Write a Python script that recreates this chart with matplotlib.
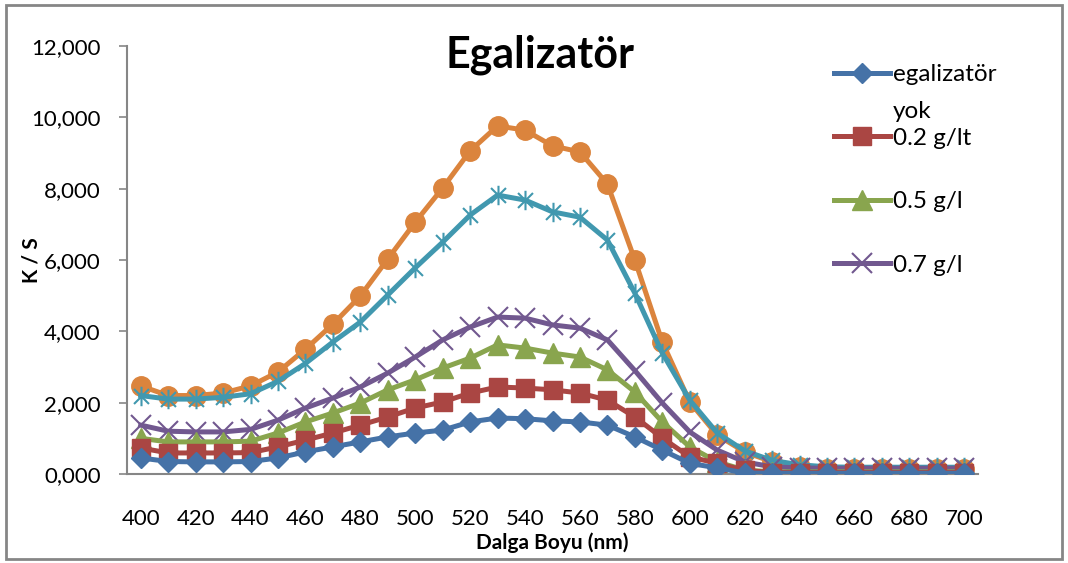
import matplotlib
matplotlib.use("Agg")
import matplotlib.pyplot as plt
from matplotlib.path import Path
from matplotlib.patches import Rectangle
import matplotlib.ticker as mticker
import numpy as np

wavelength = list(range(400, 701, 10))

yok = [450, 350, 340, 340, 350, 450, 620, 760, 900, 1040, 1150, 1230, 1460, 1570, 1550, 1490, 1460, 1370, 1040, 670,
       300, 170, 30, 20, 20, 20, 20, 20, 20, 20, 20]
g02 = [730, 590, 590, 590, 600, 760, 950, 1150, 1370, 1600, 1850, 2020, 2270, 2440, 2410, 2360, 2270, 2070, 1600, 1010,
       480, 300, 100, 40, 40, 40, 40, 40, 40, 40, 40]
g05 = [1000, 900, 900, 900, 920, 1150, 1460, 1710, 1990, 2360, 2640, 2970, 3250, 3620, 3530, 3390, 3280, 2920, 2300, 1460,
       760, 340, 110, 60, 60, 60, 60, 60, 60, 60, 60]
g07 = [1370, 1200, 1180, 1180, 1250, 1510, 1850, 2130, 2440, 2830, 3280, 3760, 4120, 4400, 4370, 4180, 4090, 3760, 2900, 1990,
       1180, 670, 340, 200, 170, 160, 160, 160, 160, 160, 160]
series5 = [2200, 2100, 2100, 2150, 2250, 2600, 3100, 3700, 4260, 5020, 5780, 6500, 7260, 7820, 7680, 7350, 7200, 6560, 5070, 3390,
           2070, 1150, 650, 380, 260, 200, 190, 190, 190, 190, 190]
series6 = [2470, 2200, 2200, 2270, 2470, 2860, 3500, 4200, 4990, 6030, 7060, 8020, 9060, 9760, 9640, 9200, 9030, 8130, 6000, 3700,
           2020, 1090, 620, 340, 200, 140, 140, 140, 140, 140, 140]

labels = ["egalizatör", "0.2 g/lt", "0.5 g/l", "0.7 g/l"]
xtick_labels = list(range(400, 701, 20))
ytick_values = list(range(0, 12001, 2000))

colors = ["#4572A7", "#AA4643", "#89A54E", "#71588F", "#4198AF", "#DB843D"]

star = Path([(-1, -1), (1, 1), (-1, 1), (1, -1), (0, -1.3), (0, 1.3)],
            [Path.MOVETO, Path.LINETO, Path.MOVETO, Path.LINETO, Path.MOVETO, Path.LINETO])

plt.rcParams['font.family'] = ['Lato', 'DejaVu Sans']

fig = plt.figure(figsize=(10.68, 5.63), dpi=100)
ax = fig.add_axes([127 / 1068, 1 - 474 / 563, (978 - 127) / 1068, (474 - 46) / 563])

lw = 3.6
ax.plot(wavelength, series6, color=colors[5], lw=lw, marker='o', ms=14, mec=colors[5], zorder=2)
ax.plot(wavelength, series5, color=colors[4], lw=lw, marker=star, ms=14, mew=1.5, mfc='none', mec=colors[4], zorder=3)
ax.plot(wavelength, g07, color=colors[3], lw=lw, marker='x', ms=14, mew=1.5, mec=colors[3], zorder=4, label=labels[3])
ax.plot(wavelength, g05, color=colors[2], lw=lw, marker='^', ms=14, mec=colors[2], zorder=5, label=labels[2])
ax.plot(wavelength, g02, color=colors[1], lw=lw, marker='s', ms=12.5, mec=colors[1], zorder=6, label=labels[1])
ax.plot(wavelength, yok, color=colors[0], lw=lw, marker='D', ms=10.5, mec=colors[0], zorder=7, label=labels[0])

ax.set_xlim(395, 705)
ax.set_ylim(0, 12000)
ax.set_xticks(xtick_labels)
ax.set_yticks(ytick_values)
ax.yaxis.set_major_formatter(mticker.FuncFormatter(lambda v, p: f"{v/1000:,.3f}".replace('.', ',')))

for s in ['top', 'right']:
    ax.spines[s].set_visible(False)
for s in ['left', 'bottom']:
    ax.spines[s].set_color('#868686')
    ax.spines[s].set_linewidth(1.5)
ax.tick_params(axis='y', length=6, width=1.2, color='#868686', labelsize=16, pad=13)
ax.tick_params(axis='x', length=0, labelsize=16, pad=25)

ax.set_xlabel("Dalga Boyu (nm)", fontsize=15, fontweight='bold', labelpad=3)
ax.set_ylabel("K / S", fontsize=15, fontweight='bold')
ax.yaxis.set_label_coords(-0.100, 0.5)
fig.text(540 / 1068, 1 - 55 / 563, "Egalizatör", fontsize=31, fontweight='bold', ha='center', va='center')

handles, labs = ax.get_legend_handles_labels()
order = [3, 2, 1, 0]
leg = fig.legend([handles[i] for i in order], [labs[i] for i in order],
                 loc='upper left', bbox_to_anchor=(834 / 1068, 1 - 64 / 563), frameon=False,
                 fontsize=17.5, labelspacing=1.75, handlelength=2.3, handletextpad=0.12, borderpad=0, borderaxespad=0)
fig.text(893 / 1068, 1 - 111 / 563, "yok", fontsize=17.5, ha='left', va='center')

fig.patches.append(Rectangle((6 / 1068, 4 / 563), 1056 / 1068, 554 / 563, transform=fig.transFigure,
                             fill=False, edgecolor='#868686', lw=2))

fig.savefig("out.png", dpi=100)
